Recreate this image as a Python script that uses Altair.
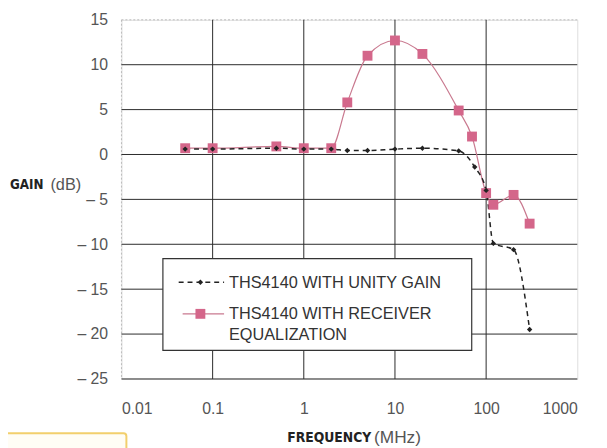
import altair as alt
import pandas as pd

# Receiver equalization series
eq_freq = [0.05, 0.1, 0.5, 1, 2, 3, 5, 10, 20, 50, 70, 100, 120, 200, 300]
eq_gain = [0.7, 0.7, 0.9, 0.7, 0.7, 5.8, 11.0, 12.7, 11.2, 4.9, 2.0, -4.3, -5.6, -4.5, -7.7]

# Unity gain series
ug_freq = [0.05, 0.1, 0.5, 1, 2, 3, 5, 10, 20, 50, 75, 100, 120, 200, 300]
ug_gain = [0.6, 0.6, 0.7, 0.6, 0.6, 0.45, 0.45, 0.6, 0.7, 0.4, -1.4, -4.0, -9.9, -10.6, -19.5]

x_ticks = [0.01, 0.1, 1, 10, 100, 1000]
y_ticks = [15, 10, 5, 0, -5, -10, -15, -20, -25]
x_grid_dark = [0.1, 1, 10, 100]
x_grid_light = [0.01]
y_grid_dark = [10, 5, 0, -5, -10, -15, -20, -25]
y_grid_light = [15]

eq = pd.DataFrame({"f": eq_freq, "g": eq_gain})
ug = pd.DataFrame({"f": ug_freq, "g": ug_gain})

PINK = "#d4668a"
PINK_LINE = "#c9798f"
FONT = "Liberation Sans"
BOLD = "DejaVu Sans Condensed"

xs = alt.Scale(type="log", domain=[0.01, 1000])
ys = alt.Scale(domain=[-25, 15])

xax = alt.Axis(values=x_ticks, labelExpr="datum.value < 1 ? format(datum.value, '.2~f') : format(datum.value, 'd')",
               grid=False, ticks=False, domain=False,
               labelFont=FONT, labelFontSize=16, labelColor="#555", labelPadding=22, title=None)
yax = alt.Axis(values=y_ticks, labelExpr="datum.value < 0 ? '\u2013 ' + abs(datum.value) : datum.value",
               grid=False, ticks=False, domain=False,
               labelFont=FONT, labelFontSize=16, labelColor="#555", labelPadding=14, title=None)

vdark = alt.Chart(pd.DataFrame({"f": x_grid_dark})).mark_rule(color="#2a2a2a", strokeWidth=1).encode(
    x=alt.X("f:Q", scale=xs, axis=xax))
vlight = alt.Chart(pd.DataFrame({"f": x_grid_light})).mark_rule(color="#bbb", strokeWidth=1, strokeDash=[2, 2]).encode(
    x=alt.X("f:Q", scale=xs))
hdark = alt.Chart(pd.DataFrame({"g": y_grid_dark})).mark_rule(color="#2a2a2a", strokeWidth=1).encode(
    y=alt.Y("g:Q", scale=ys, axis=yax))
hlight = alt.Chart(pd.DataFrame({"g": y_grid_light})).mark_rule(color="#bbb", strokeWidth=1, strokeDash=[2, 2]).encode(
    y=alt.Y("g:Q", scale=ys))

eq_line = alt.Chart(eq).mark_line(color=PINK_LINE, strokeWidth=1.2, interpolate="monotone").encode(
    x=alt.X("f:Q", scale=xs), y=alt.Y("g:Q", scale=ys))
eq_pts = alt.Chart(eq).mark_point(shape="square", filled=True, color=PINK, size=100, opacity=1).encode(
    x=alt.X("f:Q", scale=xs), y=alt.Y("g:Q", scale=ys))
ug_line = alt.Chart(ug).mark_line(color="#222", strokeWidth=1.5, strokeDash=[5, 4], interpolate="monotone").encode(
    x=alt.X("f:Q", scale=xs), y=alt.Y("g:Q", scale=ys))
ug_pts = alt.Chart(ug).mark_point(shape="diamond", filled=True, color="#222", size=30, opacity=1).encode(
    x=alt.X("f:Q", scale=xs), y=alt.Y("g:Q", scale=ys))

# Legend box (manual)
one = pd.DataFrame({"a": [0]})
box = alt.Chart(one).mark_rect(fill="white", stroke="#333", strokeWidth=1.2).encode(
    x=alt.value(42), x2=alt.value(355), y=alt.value(242), y2=alt.value(335))
leg1_line = alt.Chart(one).mark_rule(color="#222", strokeWidth=1.5, strokeDash=[5, 4]).encode(
    x=alt.value(58), x2=alt.value(104), y=alt.value(266))
leg1_pt = alt.Chart(one).mark_point(shape="diamond", filled=True, color="#222", size=30, opacity=1).encode(
    x=alt.value(80), y=alt.value(266))
leg2_line = alt.Chart(one).mark_rule(color=PINK_LINE, strokeWidth=1.2).encode(
    x=alt.value(62), x2=alt.value(104), y=alt.value(298))
leg2_pt = alt.Chart(one).mark_point(shape="square", filled=True, color=PINK, size=100, opacity=1).encode(
    x=alt.value(80), y=alt.value(298))

def txt(s, x, y, font=FONT, size=13, weight="normal", color="#333"):
    return alt.Chart(pd.DataFrame({"t": [s]})).mark_text(
        align="left", baseline="middle", font=font, fontSize=size, fontWeight=weight, color=color).encode(
        x=alt.value(x), y=alt.value(y), text="t:N")

labels = [
    txt("THS4140 WITH UNITY GAIN", 109, 267, size=16.5),
    txt("THS4140 WITH RECEIVER", 109, 298, size=16.5),
    txt("EQUALIZATION", 109, 320, size=16.5),
    txt("GAIN", -113, 167, font=BOLD, size=13.5, weight="bold", color="#222"),
    txt("(dB)", -72, 167, size=16.5, color="#555"),
    txt("FREQUENCY", 168, 424, font=BOLD, size=14, weight="bold", color="#222"),
    txt("(MHz)", 256, 424, size=17.5, color="#555"),
]

yellow = alt.Chart(one).mark_rect(fill="#fffdf5", stroke="#f2cf6c", strokeWidth=2, cornerRadius=3).encode(
    x=alt.value(-130), x2=alt.value(5), y=alt.value(419), y2=alt.value(460))

chart = alt.layer(vlight, hlight, vdark, hdark, eq_line, ug_line, eq_pts, ug_pts, box, leg1_line, leg1_pt,
                  leg2_line, leg2_pt, yellow, *labels).properties(
    width=462, height=364,
    autosize=alt.AutoSizeParams(type="none"),
    padding={"left": 115, "top": 9, "right": 22, "bottom": 67},
).configure_view(stroke=None).configure(background="white")

chart.save("out.html", embed_options={"renderer": "svg", "actions": False})
